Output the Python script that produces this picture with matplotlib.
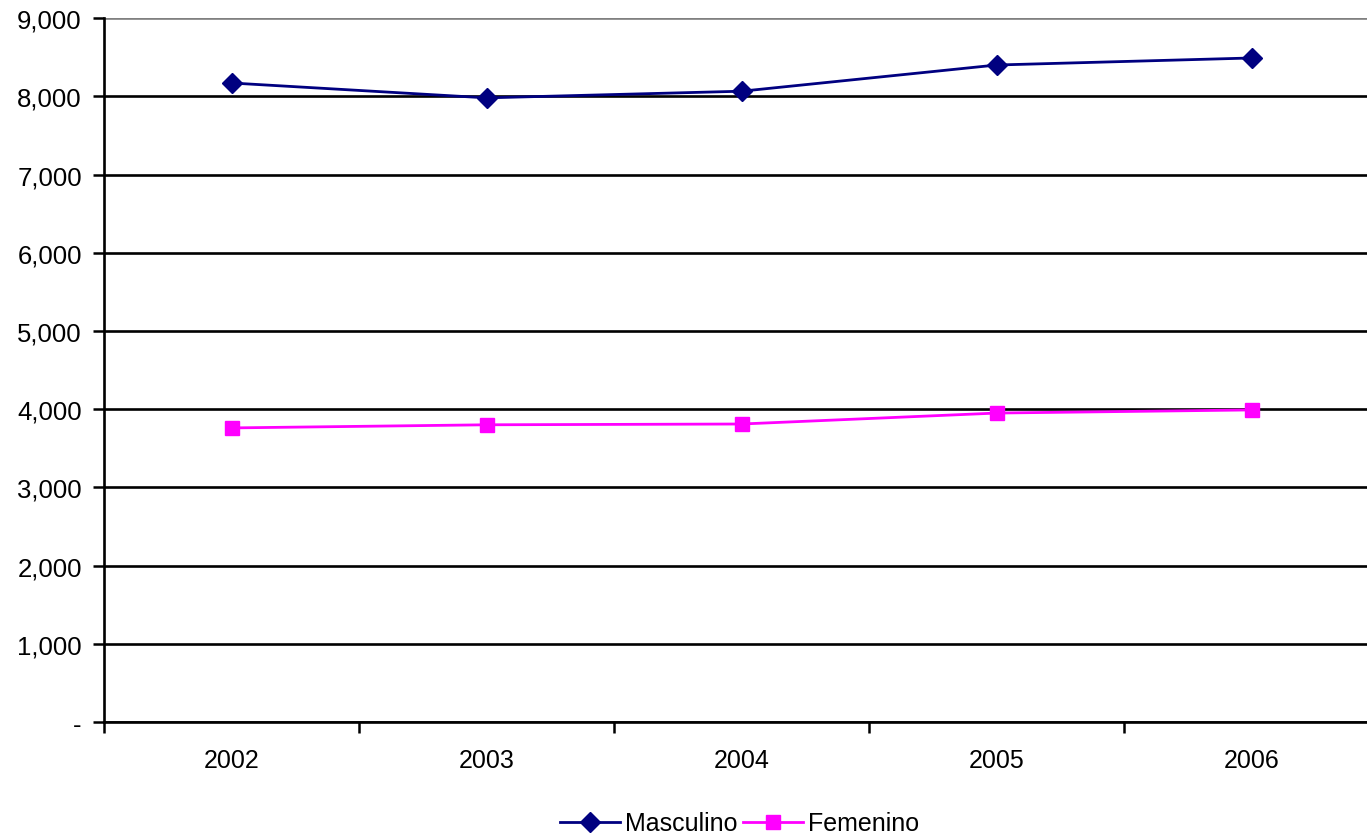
import matplotlib
matplotlib.use("Agg")
import matplotlib.pyplot as plt
from matplotlib.ticker import FuncFormatter, FixedLocator

plt.rcParams['font.family'] = ['Liberation Sans', 'DejaVu Sans']

# data
years = ["2002", "2003", "2004", "2005", "2006"]
masculino = [8170, 7980, 8065, 8400, 8490]
femenino = [3760, 3800, 3810, 3950, 3990]

fig = plt.figure(figsize=(13.67, 8.37), dpi=100)
ax = fig.add_axes([0.0761, 0.1362, 0.9327, 0.841])

x = list(range(len(years)))
ax.plot(x, masculino, color="#000080", lw=2.0, marker="D", ms=10,
        label="Masculino", zorder=3)
ax.plot(x, femenino, color="#FF00FF", lw=2.0, marker="s", ms=10.5,
        label="Femenino", zorder=3)

ax.set_xlim(-0.5, len(years) - 0.5)
ax.set_ylim(0, 9000)
ax.set_yticks(range(0, 9001, 1000))
ax.yaxis.set_major_formatter(FuncFormatter(lambda v, p: "-" if v == 0 else f"{int(v):,}"))
ax.grid(axis="y", color="black", lw=1.9)
ax.set_axisbelow(True)

# category ticks between years, labels centered
ax.set_xticks(x)
ax.set_xticklabels(years)
ax.tick_params(axis="x", which="major", length=0, pad=19, labelsize=18)
ax.xaxis.set_minor_locator(FixedLocator([i - 0.5 for i in range(len(years) + 1)]))
ax.tick_params(axis="x", which="minor", length=8, width=1.8, direction="out")
ax.tick_params(axis="y", length=8, width=1.8, direction="out", labelsize=18.5, pad=8)

for s in ["top", "right"]:
    ax.spines[s].set_visible(False)
ax.spines["left"].set_linewidth(1.9)
ax.spines["bottom"].set_linewidth(1.9)
ax.get_ygridlines()[-1].set_color("#808080")

fig.legend(loc="lower center", bbox_to_anchor=(0.541, -0.026), ncol=2, frameon=False,
           fontsize=18, handlelength=2.4, columnspacing=0.25, handletextpad=0.2)

fig.savefig("out.png", dpi=100)
